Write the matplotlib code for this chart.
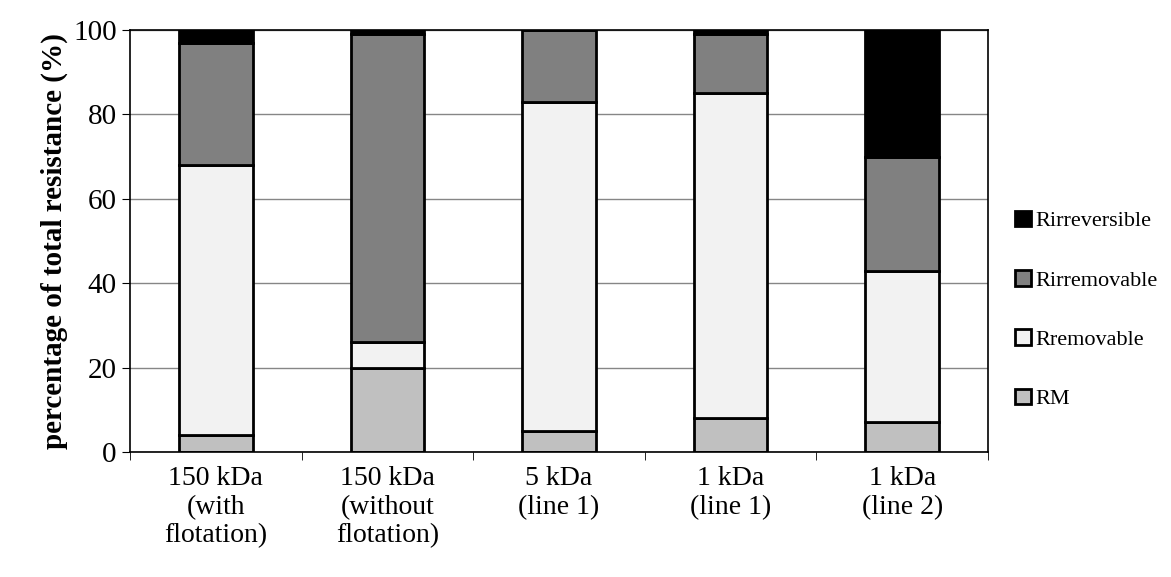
import matplotlib
matplotlib.use("Agg")
import matplotlib.pyplot as plt
import numpy as np

categories = ["150 kDa\n(with\nflotation)", "150 kDa\n(without\nflotation)", "5 kDa\n(line 1)", "1 kDa\n(line 1)", "1 kDa\n(line 2)"]
RM = [4, 20, 5, 8, 7]
Rremovable = [64, 6, 78, 77, 36]
Rirremovable = [29, 73, 17, 14, 27]
Rirreversible = [3, 1, 0, 1, 30]

plt.rcParams['font.family'] = ['Liberation Serif', 'DejaVu Serif']
fig = plt.figure(figsize=(11.71, 5.77), dpi=100)
ax = fig.add_axes([130/1171, 1-452/577, (988-130)/1171, (452-30)/577])

x = np.arange(len(categories))
series = [("RM", RM, "#c0c0c0"), ("Rremovable", Rremovable, "#f2f2f2"),
          ("Rirremovable", Rirremovable, "#808080"), ("Rirreversible", Rirreversible, "#000000")]
bottom = np.zeros(len(categories))
handles = []
for name, vals, c in series:
    h = ax.bar(x, vals, 0.43, bottom=bottom, color=c, edgecolor="black", linewidth=2, label=name)
    handles.append(h)
    bottom += np.array(vals)

ax.set_xlim(-0.5, len(categories)-0.5)
ax.set_ylim(0, 100)
ax.set_yticks(range(0, 101, 20))
ax.yaxis.grid(True, color="#868686", linewidth=1)
ax.set_axisbelow(True)
ax.set_xticks(x)
ax.set_xticklabels(categories, fontsize=20, linespacing=1.2)
ax.tick_params(axis='y', labelsize=21, length=6)
ax.tick_params(axis='x', length=0, pad=10)
ax.set_xticks(np.arange(-0.5, len(categories), 1), minor=True)
ax.tick_params(axis='x', which='minor', length=6)
for s in ax.spines.values():
    s.set_linewidth(1.2)
ax.set_ylabel("percentage of total resistance (%)", fontsize=21, fontweight="bold")

leg = fig.legend(handles[::-1], [s[0] for s in series[::-1]], loc="center left",
                 bbox_to_anchor=(995/1171, 1-310/577), frameon=False, fontsize=16,
                 handlelength=0.7, handleheight=0.7, handletextpad=0.2, labelspacing=1.75)
fig.savefig("out.png", dpi=100)
